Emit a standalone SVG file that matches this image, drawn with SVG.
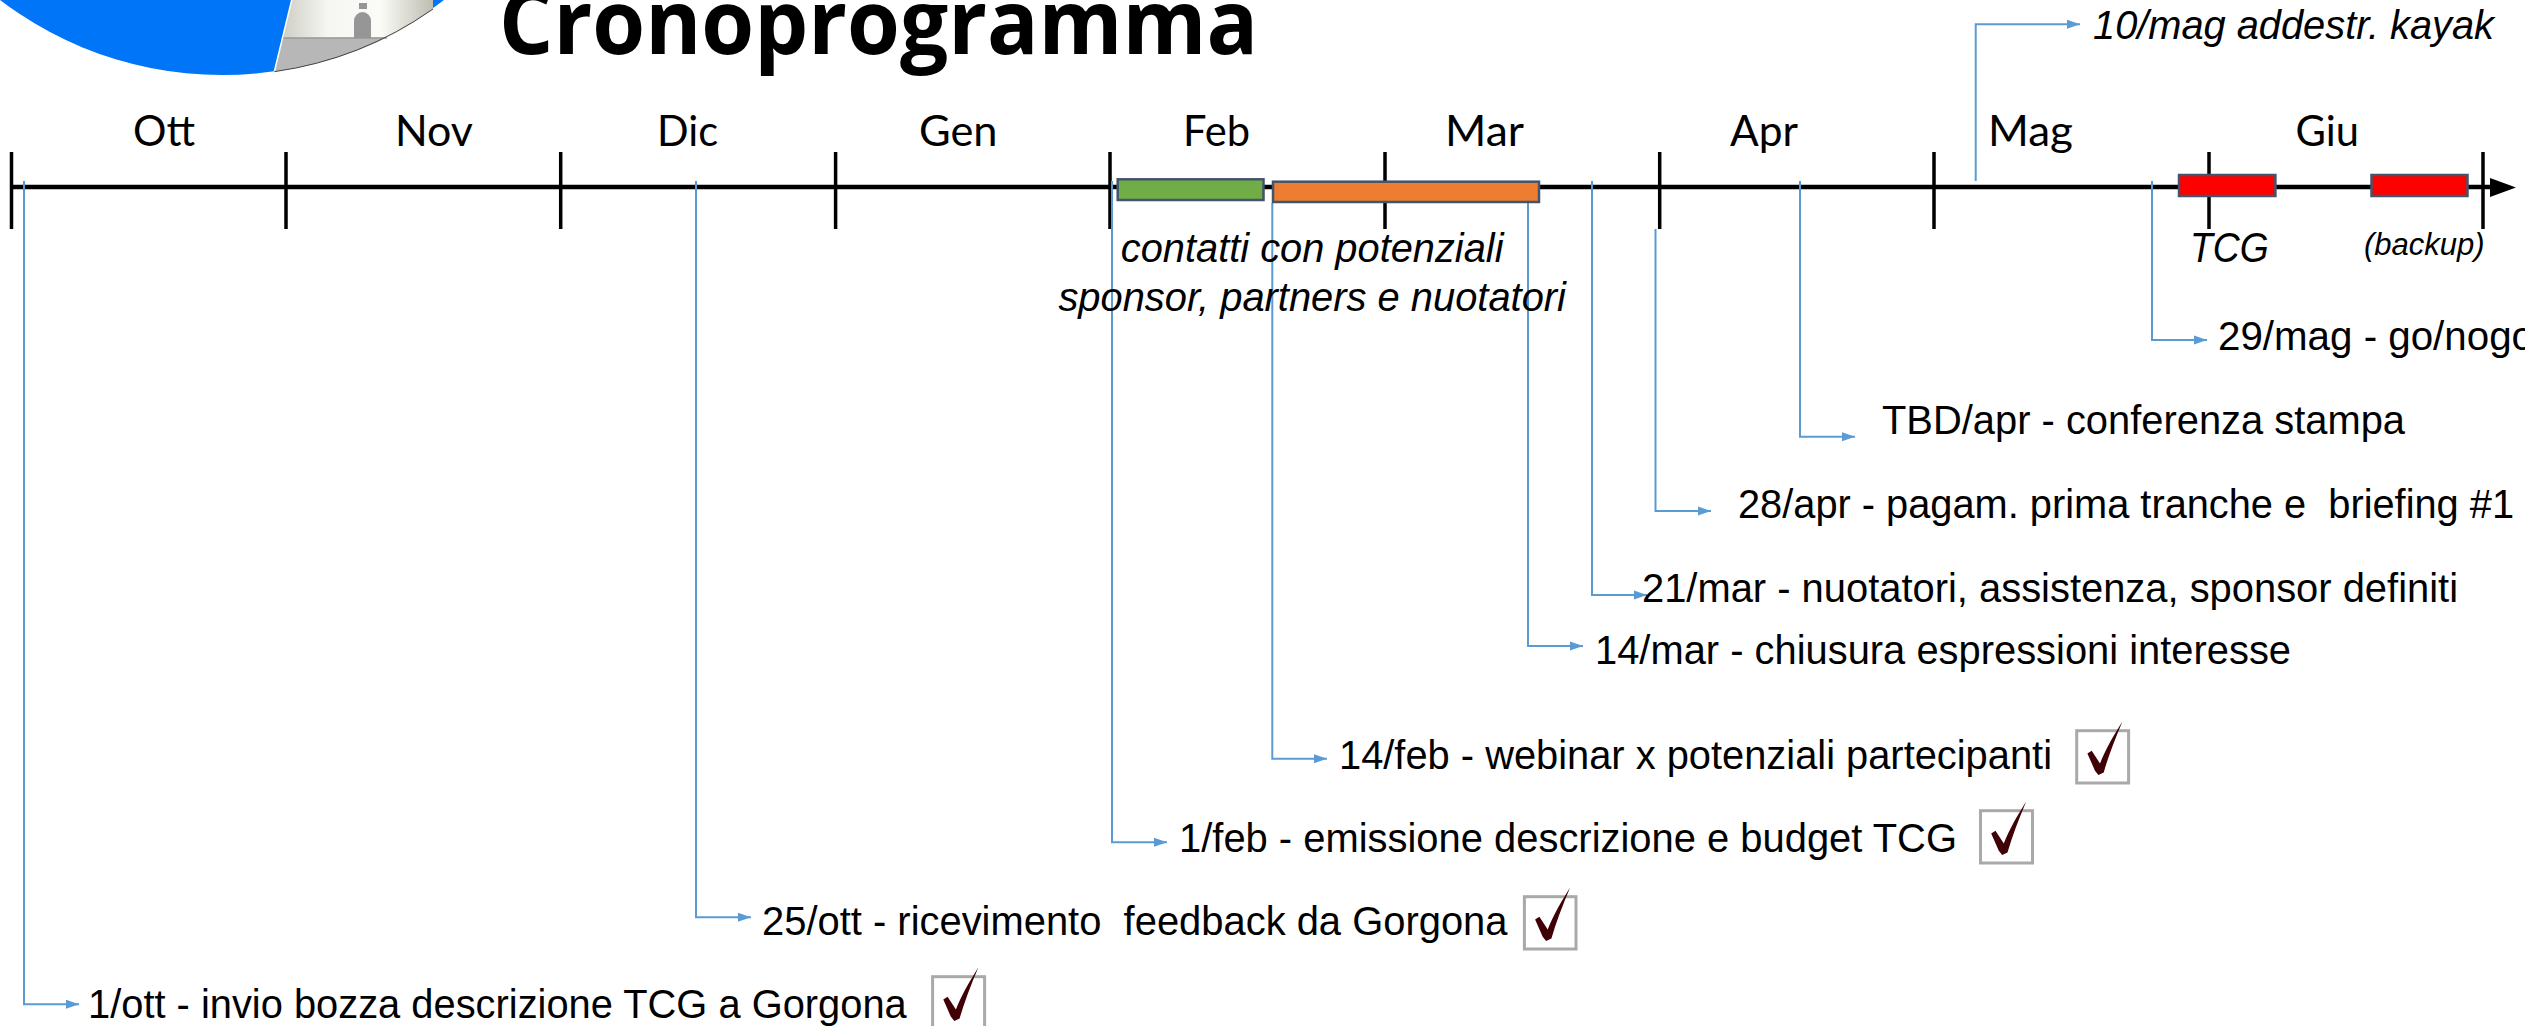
<svg xmlns="http://www.w3.org/2000/svg" width="2525" height="1026" viewBox="0 0 2525 1026">
<style>
.axis{stroke:#000;fill:none}
.conn{stroke:#5B9BD5;stroke-width:2;fill:none;marker-end:url(#arr)}
.bar{stroke:#44546A;stroke-width:2.5}
.month{font-family:"Lato","Liberation Sans",sans-serif;font-size:42px;fill:#000}
.ev{font-family:"Liberation Sans",Arial,sans-serif;font-size:40.5px;fill:#000}
.it{font-style:italic}
.box{fill:none;stroke:#A9A9A9;stroke-width:3}
.tick{fill:#3F0006}
</style>
<defs>
<marker id="arr" markerUnits="userSpaceOnUse" markerWidth="14" markerHeight="10" refX="13" refY="5" orient="auto"><path d="M0,0.5 L13,5 L0,9.5 Z" fill="#5B9BD5"/></marker>
<linearGradient id="tower" x1="0" x2="1" y1="0" y2="0"><stop offset="0" stop-color="#cfcfc6"/><stop offset="0.3" stop-color="#f6f6f2"/><stop offset="0.65" stop-color="#fbfbf8"/><stop offset="1" stop-color="#bdbdb0"/></linearGradient>
<g id="check"><path class="tick" d="M10.7,22.7 L15,20 L23.3,32.700 C29,18 38,3 45.7,-9.3 C38,9 31.500,26 27,41.700 L21.700,44.300 L18.300,40 Z"/></g>
</defs>
<g id="logo">
<circle cx="222" cy="-291" r="366" fill="#0075F7"/>
<path d="M291.700,0 L283,38 L387,38 A366,366 0 0 0 433,9 L433,0 Z" fill="url(#tower)"/>
<path d="M283,38 L274,71.700 A366,366 0 0 0 387,37.500 Z" fill="#B7B7B7"/>
<path d="M283,38 H387" stroke="#999" stroke-width="1.500"/>
<path d="M291.700,0 L274.300,71.700" stroke="#fff" stroke-width="1.500"/>
<path d="M274.300,71.700 A366,366 0 0 0 433,9" fill="none" stroke="#444" stroke-width="1"/>
<path d="M354,38 V21 A8.500,9 0 0 1 371,21 V38 Z" fill="#969696"/>
<rect x="359" y="3" width="8" height="6" fill="#969696"/>
</g>
<g id="title"><text x="499" y="53.500" textLength="759" lengthAdjust="spacingAndGlyphs" font-family="'Open Sans', 'Liberation Sans', sans-serif" font-weight="700" font-size="90">Cronoprogramma</text></g>
<g id="timeline">
<path class="axis" stroke-width="4.500" d="M11.500,187 H2492"/>
<path class="axis" stroke-width="3.500" d="M11.500,152V229M286,152V229M560.700,152V229M835.600,152V229M1110,152V229M1385,152V229M1659.700,152V229M1934,152V229M2209,152V229M2483,152V229"/>
<path d="M2490,178 L2516,187.500 L2490,197 Z" fill="#000"/>
</g>
<g id="connectors">
<path class="conn" d="M24,181 V1004.300 H79"/>
<path class="conn" d="M696,181 V917.300 H751"/>
<path class="conn" d="M1112,181 V842.300 H1167"/>
<path class="conn" d="M1272.300,203 V758.700 H1327"/>
<path class="conn" d="M1528,203 V646 H1583"/>
<path class="conn" d="M1592,181 V595 H1647"/>
<path class="conn" d="M1655.500,229 V511 H1711"/>
<path class="conn" d="M1800,181 V436.700 H1855"/>
<path class="conn" d="M2152,181 V340 H2207"/>
<path class="conn" d="M1975.700,181 V24.300 H2080"/>
</g>
<g id="bars">
<rect id="bar-green" class="bar" x="1117.700" y="179.300" width="145.800" height="20.700" fill="#70AD47"/>
<rect id="bar-orange" class="bar" x="1273" y="181.700" width="266" height="20.300" fill="#ED7D31"/>
<rect id="bar-tcg" class="bar" x="2179" y="175" width="96.400" height="21" fill="#FF0000"/>
<rect id="bar-backup" class="bar" x="2371.500" y="175" width="96" height="21" fill="#FF0000"/>
</g>
<g id="months">
<text class="month" x="133" y="146" textLength="62" lengthAdjust="spacingAndGlyphs">Ott</text>
<text class="month" x="395" y="146" textLength="78" lengthAdjust="spacingAndGlyphs">Nov</text>
<text class="month" x="657" y="146" textLength="61" lengthAdjust="spacingAndGlyphs">Dic</text>
<text class="month" x="919" y="146" textLength="78.500" lengthAdjust="spacingAndGlyphs">Gen</text>
<text class="month" x="1183" y="146" textLength="67" lengthAdjust="spacingAndGlyphs">Feb</text>
<text class="month" x="1445" y="146" textLength="79" lengthAdjust="spacingAndGlyphs">Mar</text>
<text class="month" x="1730" y="146" textLength="68" lengthAdjust="spacingAndGlyphs">Apr</text>
<text class="month" x="1988" y="146" textLength="85" lengthAdjust="spacingAndGlyphs">Mag</text>
<text class="month" x="2295.600" y="146" textLength="63.500" lengthAdjust="spacingAndGlyphs">Giu</text>
</g>
<g id="bar-labels">
<text class="ev it" x="1120.800" y="262" textLength="382.700" lengthAdjust="spacingAndGlyphs">contatti con potenziali</text>
<text class="ev it" x="1058.400" y="310.500" textLength="507.600" lengthAdjust="spacingAndGlyphs">sponsor, partners e nuotatori</text>
<text class="ev it" x="2190" y="262" style="font-size:42px" textLength="78.700" lengthAdjust="spacingAndGlyphs">TCG</text>
<text class="ev it" x="2364" y="255" style="font-size:31px" textLength="120.700" lengthAdjust="spacingAndGlyphs">(backup)</text>
</g>
<g id="ev-10mag"><text class="ev it" x="2093" y="39" textLength="401" lengthAdjust="spacingAndGlyphs">10/mag addestr. kayak</text></g>
<g id="ev-29mag"><text class="ev" x="2218" y="350" textLength="316" lengthAdjust="spacingAndGlyphs">29/mag - go/nogo</text></g>
<g id="ev-tbdapr"><text class="ev" x="1882" y="434" textLength="523" lengthAdjust="spacingAndGlyphs">TBD/apr - conferenza stampa</text></g>
<g id="ev-28apr"><text class="ev" x="1738" y="518" textLength="776" lengthAdjust="spacingAndGlyphs" xml:space="preserve">28/apr - pagam. prima tranche e  briefing #1</text></g>
<g id="ev-21mar"><text class="ev" x="1642" y="601.500" textLength="816" lengthAdjust="spacingAndGlyphs">21/mar - nuotatori, assistenza, sponsor definiti</text></g>
<g id="ev-14mar"><text class="ev" x="1595" y="664" textLength="696" lengthAdjust="spacingAndGlyphs">14/mar - chiusura espressioni interesse</text></g>
<g id="ev-14feb"><text class="ev" x="1339" y="768.500" textLength="713" lengthAdjust="spacingAndGlyphs">14/feb - webinar x potenziali partecipanti</text><rect class="box" x="2076.700" y="730.700" width="51.900" height="52.300"/><use href="#check" x="2076.700" y="730.700"/></g>
<g id="ev-1feb"><text class="ev" x="1179" y="851.500" textLength="778" lengthAdjust="spacingAndGlyphs">1/feb - emissione descrizione e budget TCG</text><rect class="box" x="1980.500" y="810.700" width="52" height="52.300"/><use href="#check" x="1980.500" y="810.700"/></g>
<g id="ev-25ott"><text class="ev" x="762" y="934.500" textLength="745.500" lengthAdjust="spacingAndGlyphs" xml:space="preserve">25/ott - ricevimento  feedback da Gorgona</text><rect class="box" x="1524.400" y="896.700" width="51.600" height="52.300"/><use href="#check" x="1524.400" y="896.700"/></g>
<g id="ev-1ott"><text class="ev" x="88" y="1018" textLength="818.700" lengthAdjust="spacingAndGlyphs">1/ott - invio bozza descrizione TCG a Gorgona</text><rect class="box" x="932.600" y="976.700" width="52" height="52.300"/><use href="#check" x="932.600" y="976.700"/></g>
</svg>
